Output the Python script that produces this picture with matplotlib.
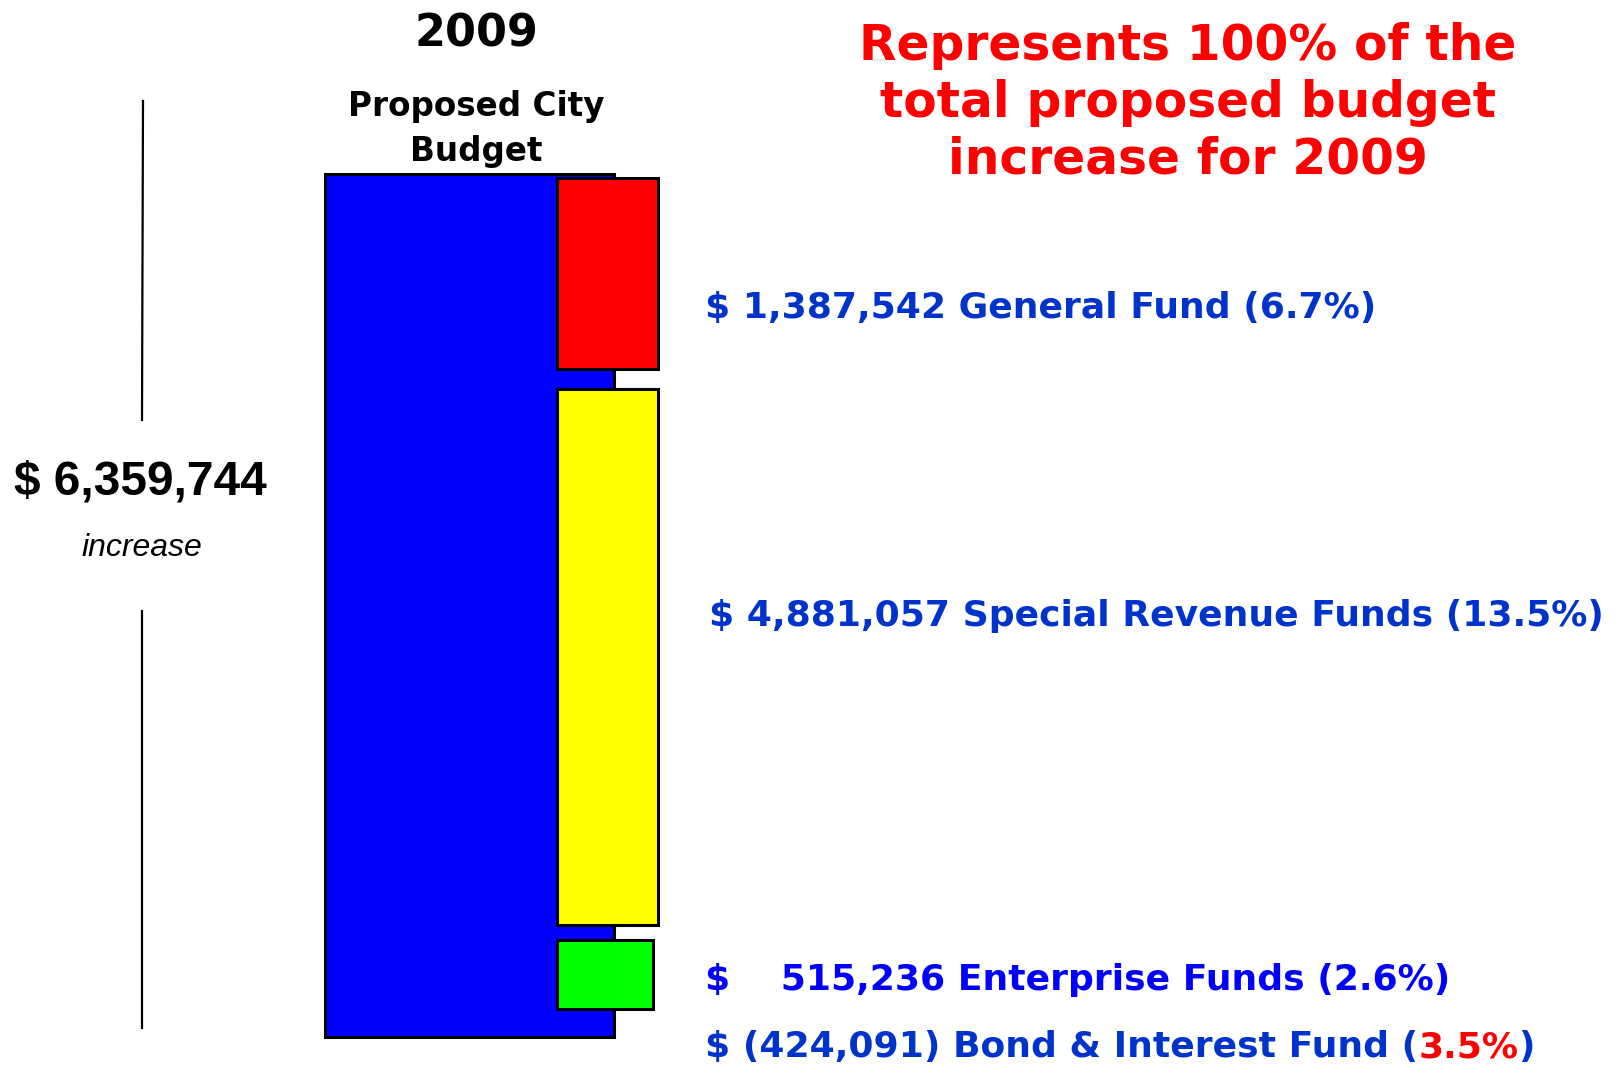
import matplotlib
matplotlib.use("Agg")
import matplotlib.pyplot as plt

# budget increase by fund (dollars)
FUNDS = ["General Fund", "Special Revenue Funds", "Enterprise Funds", "Bond & Interest Fund"]
AMOUNTS = [1387542, 4881057, 515236, -424091]
PCTS = ["6.7%", "13.5%", "2.6%", "3.5%"]
TOTAL = 6359744

# drawn block spans on the dollar axis (red, yellow, green)
BLOCK_BOTTOM = [4922000, 825000, 206000]
BLOCK_TOP = [6330000, 4775000, 715000]
BLOCK_COLORS = ["#ff0000", "#ffff00", "#00ff00"]
BLOCK_WIDTH = [1.0, 1.0, 0.95]

W, H = 1623, 1065
fig = plt.figure(figsize=(W / 100, H / 100), dpi=100)

def fx(px):
    return px / W

def fy(py):
    return 1 - py / H

# bar area: blue bar x 325-614, blocks x 557-658, y 174-1037
ax = fig.add_axes([fx(325), fy(1037), fx(658) - fx(325), fy(174) - fy(1037)])
ax.set_xlim(0, 333)
ax.set_ylim(0, TOTAL)
ax.axis("off")

ax.bar(0, TOTAL, width=289, align="edge", color="#0000ff",
       edgecolor="black", linewidth=2.2, clip_on=False)
for b, t, c, w in zip(BLOCK_BOTTOM, BLOCK_TOP, BLOCK_COLORS, BLOCK_WIDTH):
    ax.bar(232, t - b, bottom=b, width=101 * w, align="edge", color=c,
           edgecolor="black", linewidth=2.2, clip_on=False)

# bracket line on the left
fig.add_artist(plt.Line2D([fx(143), fx(142)], [fy(101), fy(420)], color="black", lw=1.6))
fig.add_artist(plt.Line2D([fx(142), fx(142)], [fy(611), fy(1028)], color="black", lw=1.6))

fig.text(fx(140), fy(482), "$ 6,359,744", family="Liberation Sans", weight="bold",
         fontsize=34.5, ha="center", va="center")
fig.text(fx(142), fy(548), "increase", family="Liberation Sans", style="italic",
         fontsize=23, ha="center", va="center")

fig.text(fx(476), fy(34), "2009", weight="bold", fontsize=32, ha="center", va="center")
fig.text(fx(476), fy(107), "Proposed City", weight="bold", fontsize=23.5, ha="center", va="center")
fig.text(fx(476), fy(151), "Budget", weight="bold", fontsize=23.5, ha="center", va="center")

title = ["Represents 100% of the", "total proposed budget", "increase for 2009"]
for i, line in enumerate(title):
    fig.text(fx(1188), fy(46 + 57 * i), line, color="#ff0000", weight="bold",
             fontsize=35, ha="center", va="center")

def money(v):
    s = f"{abs(v):,}"
    return f"({s})" if v < 0 else s

label_x = [705, 709, 705, 705]
label_y = [308, 616, 980, 1047]
label_colors = ["#0033cc", "#0033cc", "#0000ff", "#0033cc"]
FS = 26
for i, (name, amt, pct) in enumerate(zip(FUNDS, AMOUNTS, PCTS)):
    gap = "    " if i == 2 else " "
    if i == 3:
        t = fig.text(fx(label_x[i]), fy(label_y[i]), f"$ {money(amt)} {name} (",
                     color=label_colors[i], weight="bold", fontsize=FS, va="center")
        t2 = fig.text(0, 0, pct, color="#ff0000", weight="bold", fontsize=FS, va="center")
        fig.canvas.draw()
        bb = t.get_window_extent()
        t2.set_position((bb.x1 / W, fy(label_y[i])))
        bb2 = t2.get_window_extent()
        fig.text(bb2.x1 / W, fy(label_y[i]), ")", color=label_colors[i],
                 weight="bold", fontsize=FS, va="center")
    else:
        fig.text(fx(label_x[i]), fy(label_y[i]), f"${gap}{money(amt)} {name} ({pct})",
                 color=label_colors[i], weight="bold", fontsize=FS, va="center")

fig.savefig("out.png", dpi=100)
